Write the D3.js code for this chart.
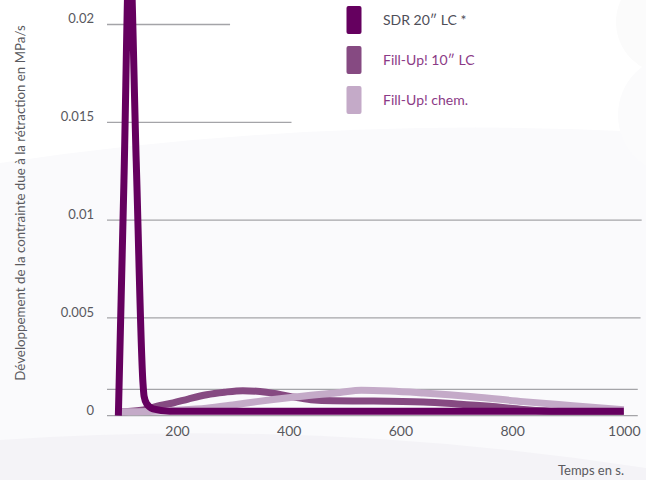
<!DOCTYPE html>
<html>
<head>
<meta charset="utf-8">
<script src="https://cdn.jsdelivr.net/npm/d3@7"></script>
<style>
  html, body { margin: 0; padding: 0; background: #ffffff; }
  svg { display: block; font-family: Lato, "Open Sans", sans-serif; }
</style>
</head>
<body>
<svg id="chart" width="646" height="480"></svg>
<script>
// ---- data ----
const seriesNames = ["SDR 20\u2033 LC *", "Fill-Up! 10\u2033 LC", "Fill-Up! chem."];
const seriesColors = ["#65005f", "#864a82", "#c4aac8"];
const legendTextColors = ["#4e4e58", "#8b3a86", "#8b3a86"];

const sdrTime  = [95, 105, 115, 127, 139, 141, 146, 157, 187, 220, 1000];
const sdrValue = [0, 0.012, 0.024, 0.013, 0.0017, 0.0010, 0.0006, 0.00035, 0.00023, 0.000225, 0.000225];

const lcTime  = [100, 140, 170, 193, 220, 253, 285, 318, 360, 402, 440, 480, 552, 641, 701, 760, 820, 880, 1000];
const lcValue = [0.0002, 0.0003, 0.00052, 0.00065, 0.00085, 0.00107, 0.0012, 0.00128, 0.0012, 0.00099, 0.00082, 0.00076, 0.00075, 0.0007, 0.0006, 0.00048, 0.00032, 0.00023, 0.000225];

const chemTime  = [100, 150, 200, 253, 300, 343, 415, 492, 530, 581, 641, 730, 820, 909, 1000];
const chemValue = [0.0002, 0.00022, 0.00028, 0.00038, 0.00055, 0.00072, 0.00097, 0.00119, 0.0013, 0.00126, 0.00116, 0.00097, 0.00072, 0.00051, 0.0003];

const xTicks = [200, 400, 600, 800, 1000];
const yTicks = [0, 0.005, 0.01, 0.015, 0.02];
const yTickLabels = ["0", "0.005", "0.01", "0.015", "0.02"];
const gridValues = [0, 0.00135, 0.005, 0.01, 0.015, 0.02];
const gridEndTime = [1025, 1025, 1030, 1032, 405, 295];

const yTitle = "D\u00e9veloppement de la contrainte due \u00e0 la r\u00e9traction en MPa/s";
const xTitle = "Temps en s.";

// ---- drawing ----
const svg = d3.select("#chart");
const W = 646, H = 480;

// background decoration
svg.append("rect").attr("width", W).attr("height", H).attr("fill", "#ffffff");
svg.append("path").attr("d", "M0,163 Q320,115 646,132 L646,480 L0,480 Z").attr("fill", "#fafafc");
svg.append("circle").attr("cx", 668).attr("cy", 22).attr("r", 52).attr("fill", "#fbfbfb");
svg.append("circle").attr("cx", 678).attr("cy", 115).attr("r", 60).attr("fill", "#fbfbfc");
svg.append("path").attr("d", "M0,440 Q320,418 646,468 L646,480 L0,480 Z").attr("fill", "#f4f3f7");

const x = d3.scaleLinear().domain([0, 1000]).range([65.3, 623.8]);
const y = d3.scaleLinear().domain([0, 0.02]).range([415.7, 24.5]);
const xStart = 107;

// gridlines
svg.append("g").selectAll("line").data(gridValues).join("line")
  .attr("x1", xStart)
  .attr("x2", (d, i) => x(gridEndTime[i]))
  .attr("y1", d => y(d)).attr("y2", d => y(d))
  .attr("stroke", "#a4a4a8").attr("stroke-width", 1.3);

// y axis labels
const yAxis = d3.axisLeft(y).tickValues(yTicks).tickSize(0).tickPadding(0)
  .tickFormat((d, i) => yTickLabels[i]);
const gy = svg.append("g").attr("transform", "translate(94,0)").call(yAxis);
gy.select(".domain").remove();
gy.selectAll("text").attr("font-size", 13).attr("fill", "#58585e")
  .attr("font-family", "Lato, sans-serif").attr("dy", "-0.12em");

// x axis labels
const xAxis = d3.axisBottom(x).tickValues(xTicks).tickSize(0).tickPadding(0)
  .tickFormat(d3.format("d"));
const gx = svg.append("g").attr("transform", "translate(0,426)").call(xAxis);
gx.select(".domain").remove();
gx.selectAll("text").attr("font-size", 14).attr("fill", "#58585e")
  .attr("font-family", "Lato, sans-serif");

// titles
svg.append("text").attr("transform", "translate(25,203) rotate(-90)")
  .attr("text-anchor", "middle").attr("font-size", 13.3).attr("fill", "#5a5a60")
  .text(yTitle);
svg.append("text").attr("x", 624).attr("y", 475).attr("text-anchor", "end")
  .attr("font-size", 13).attr("fill", "#5a5a60").text(xTitle);

// lines
const line = d3.line().x(d => x(d[0])).y(d => y(d[1])).curve(d3.curveMonotoneX);
const series = [
  { t: sdrTime, v: sdrValue, c: seriesColors[0] },
  { t: lcTime, v: lcValue, c: seriesColors[1] },
  { t: chemTime, v: chemValue, c: seriesColors[2] }
];
const drawOrder = [1, 2, 0];
drawOrder.forEach(i => {
  const s = series[i];
  svg.append("path")
    .datum(s.t.map((t, k) => [t, s.v[k]]))
    .attr("d", line)
    .attr("fill", "none")
    .attr("stroke", s.c)
    .attr("stroke-width", 7)
    .attr("stroke-linecap", "butt")
    .attr("stroke-linejoin", "round");
});

// legend
const lg = svg.append("g");
seriesNames.forEach((name, i) => {
  lg.append("rect").attr("x", 346.5).attr("y", 6 + i * 40).attr("width", 15).attr("height", 28)
    .attr("rx", 2).attr("fill", seriesColors[i]);
  lg.append("text").attr("x", 383).attr("y", 25 + i * 40).attr("font-size", 14)
    .attr("fill", legendTextColors[i]).text(name);
});
</script>
</body>
</html>
